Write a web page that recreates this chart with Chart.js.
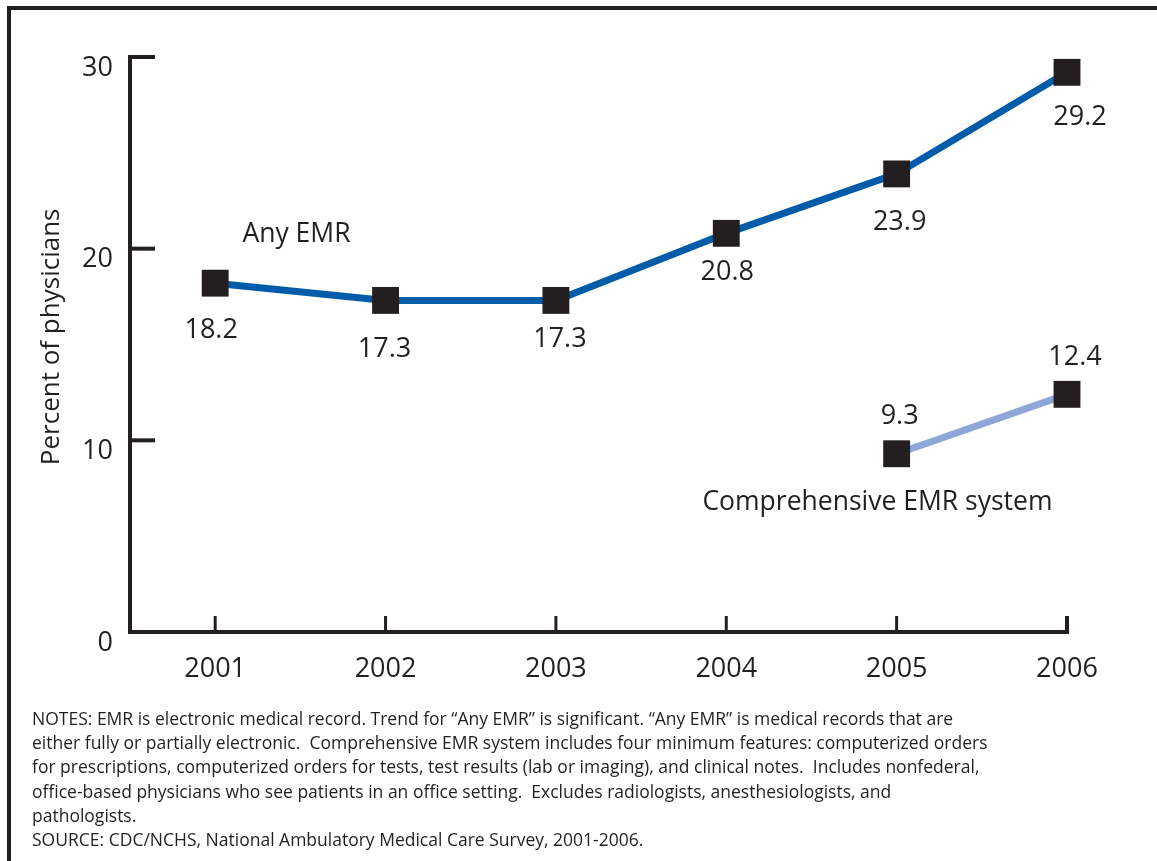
<!DOCTYPE html>
<html>
<head>
<meta charset="utf-8">
<script src="https://cdn.jsdelivr.net/npm/chart.js@4.4.0/dist/chart.umd.min.js"></script>
<style>
  html, body { margin: 0; padding: 0; background: #fff; }
  #wrap { position: relative; width: 1157px; height: 861px; overflow: hidden; background: #fff; }
  #c { position: absolute; left: 0; top: 0; }
  #frameTop { position: absolute; left: 7px; top: 6px; width: 1150px; height: 4px; background: #231f20; }
  #frameLeft { position: absolute; left: 7px; top: 6px; width: 4px; height: 855px; background: #231f20; }
  #notes { position: absolute; left: 32px; top: 706px; font-family: "Open Sans", sans-serif; font-size: 17.5px;
           line-height: 24.2px; color: #231f20; white-space: pre; letter-spacing: 0px; }
</style>
</head>
<body>
<div id="wrap">
  <canvas id="c" width="1157" height="861"></canvas>
  <div id="frameTop"></div>
  <div id="frameLeft"></div>
  <div id="notes">NOTES: EMR is electronic medical record. Trend for “Any EMR” is significant. “Any EMR” is medical records that are
either fully or partially electronic.  Comprehensive EMR system includes four minimum features: computerized orders
for prescriptions, computerized orders for tests, test results (lab or imaging), and clinical notes.  Includes nonfederal,
office-based physicians who see patients in an office setting.  Excludes radiologists, anesthesiologists, and
pathologists.
SOURCE: CDC/NCHS, National Ambulatory Medical Care Survey, 2001-2006.</div>
</div>
<script>
// ---- data ----
const years = [2001, 2002, 2003, 2004, 2005, 2006];
const xTickLabels = ['2001', '2002', '2003', '2004', '2005', '2006'];
const anyEMR = [18.2, 17.3, 17.3, 20.8, 23.9, 29.2];
const comprehensiveEMR = [null, null, null, null, 9.3, 12.4];
const yTicks = [0, 10, 20, 30];
const yTickLabels = ['0', '10', '20', '30'];
const seriesNames = ['Any EMR', 'Comprehensive EMR system'];
const yTitle = 'Percent of physicians';

// ---- label placement (pixel offsets from the marker) ----
const anyLabelOffsets = [[-4, 47], [-1, 49], [4, 39], [1, 39], [3, 48], [13, 45]];
const compLabelOffsets = [null, null, null, null, [3, -37], [8, -37]];

const INK = '#231f20';
const FONT = '"Open Sans", "Noto Sans", sans-serif';

function toPoints(vals) {
  return years.map((yr, i) => ({ x: yr, y: vals[i] }));
}

const annotate = {
  id: 'annotate',
  beforeDatasetsDraw(chart) {
    const ctx = chart.ctx;
    const xs = chart.scales.x, ys = chart.scales.y;
    const x0 = xs.left;
    const xEnd = xs.getPixelForValue(years[years.length - 1]);
    const yTop = ys.getPixelForValue(yTicks[yTicks.length - 1]);
    const yBot = ys.getPixelForValue(0);
    ctx.save();
    ctx.strokeStyle = INK;
    ctx.lineWidth = 4;
    ctx.lineJoin = 'miter';
    ctx.lineCap = 'butt';
    ctx.beginPath();
    ctx.moveTo(x0 + 25, yTop);
    ctx.lineTo(x0, yTop);
    ctx.lineTo(x0, yBot);
    ctx.lineTo(xEnd, yBot);
    ctx.lineTo(xEnd, yBot - 16);
    ctx.stroke();
    // y ticks (inside)
    yTicks.forEach(v => {
      if (v === 0 || v === yTicks[yTicks.length - 1]) return;
      const py = ys.getPixelForValue(v);
      ctx.beginPath();
      ctx.moveTo(x0, py);
      ctx.lineTo(x0 + 25, py);
      ctx.stroke();
    });
    // x ticks (upward)
    ctx.lineWidth = 3;
    years.forEach((yr, i) => {
      if (i === years.length - 1) return;
      const px = xs.getPixelForValue(yr);
      ctx.beginPath();
      ctx.moveTo(px, yBot);
      ctx.lineTo(px, yBot - 16);
      ctx.stroke();
    });
    ctx.restore();
  },
  afterDraw(chart) {
    const ctx = chart.ctx;
    const xs = chart.scales.x, ys = chart.scales.y;
    ctx.save();
    ctx.fillStyle = INK;
    // y tick labels
    ctx.font = '27px ' + FONT;
    ctx.textAlign = 'right';
    ctx.textBaseline = 'middle';
    yTicks.forEach((v, i) => {
      ctx.fillText(yTickLabels[i], 113, ys.getPixelForValue(v) + 11);
    });
    // x tick labels
    ctx.textAlign = 'center';
    years.forEach((yr, i) => {
      ctx.fillText(xTickLabels[i], xs.getPixelForValue(yr), ys.getPixelForValue(0) + 37);
    });
    // data labels
    const drawLabels = (dsIndex, vals, offs) => {
      const meta = chart.getDatasetMeta(dsIndex);
      vals.forEach((v, i) => {
        if (v === null || !offs[i]) return;
        const el = meta.data[i];
        ctx.fillText(v.toFixed(1), el.x + offs[i][0], el.y + offs[i][1]);
      });
    };
    drawLabels(0, anyEMR, anyLabelOffsets);
    drawLabels(1, comprehensiveEMR, compLabelOffsets);
    // series labels
    ctx.textAlign = 'left';
    ctx.font = '26.5px ' + FONT;
    ctx.fillText(seriesNames[0], xs.getPixelForValue(2001.16), ys.getPixelForValue(20.73));
    ctx.fillText(seriesNames[1], xs.getPixelForValue(2003.86), ys.getPixelForValue(6.74));
    // y title
    ctx.save();
    ctx.translate(52, ys.getPixelForValue(15.4));
    ctx.rotate(-Math.PI / 2);
    ctx.textAlign = 'center';
    ctx.font = '26px ' + FONT;
    ctx.fillText(yTitle, 0, 0);
    ctx.restore();
    ctx.restore();
  }
};

new Chart(document.getElementById('c'), {
  type: 'line',
  data: {
    datasets: [
      {
        label: seriesNames[0],
        data: toPoints(anyEMR),
        borderColor: '#005ca9',
        borderWidth: 7,
        pointStyle: 'rect',
        pointRadius: 19,
        pointHoverRadius: 19,
        pointBackgroundColor: INK,
        pointBorderWidth: 0,
        tension: 0,
        clip: false
      },
      {
        label: seriesNames[1],
        data: toPoints(comprehensiveEMR),
        borderColor: '#8fa6d8',
        borderWidth: 7,
        pointStyle: 'rect',
        pointRadius: 19,
        pointHoverRadius: 19,
        pointBackgroundColor: INK,
        pointBorderWidth: 0,
        tension: 0,
        spanGaps: false,
        clip: false
      }
    ]
  },
  options: {
    responsive: false,
    animation: false,
    devicePixelRatio: 1,
    layout: { padding: { left: 130, right: 90, top: 57, bottom: 229 } },
    plugins: { legend: { display: false }, title: { display: false }, tooltip: { enabled: false } },
    events: [],
    scales: {
      x: { type: 'linear', min: 2000.5, max: 2006, display: false },
      y: { type: 'linear', min: 0, max: 30, display: false }
    }
  },
  plugins: [annotate]
});
</script>
</body>
</html>
